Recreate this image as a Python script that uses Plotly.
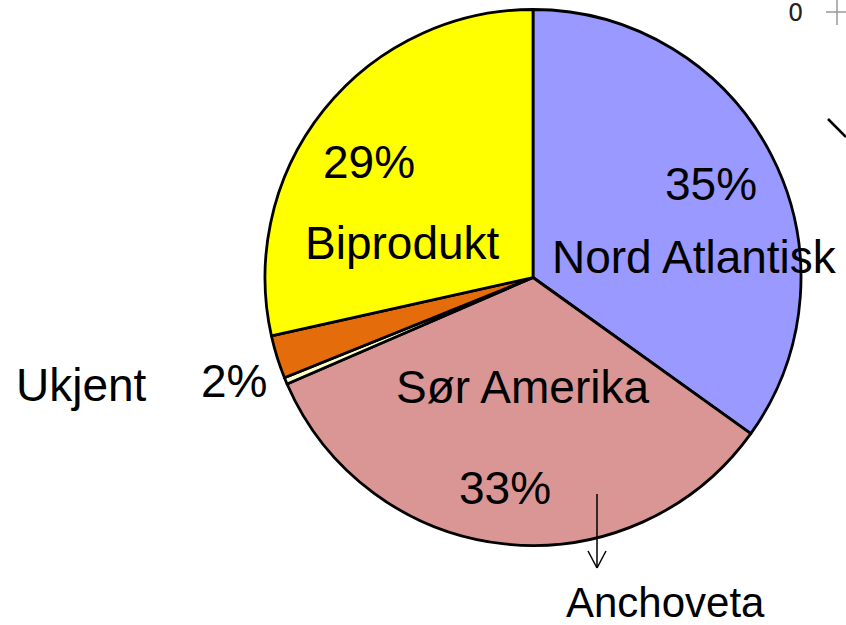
import plotly.graph_objects as go

# Data
categories = ["Nord Atlantisk", "Sør Amerika", "Annet", "Ukjent", "Biprodukt"]
values = [34.9, 33.6, 0.4, 2.6, 28.5]
colors = ["#9999FF", "#D99694", "#FFFFCC", "#E46C0A", "#FFFF00"]
pct_labels = ["35%", "33%", "2%", "29%"]
name_labels = ["Nord Atlantisk", "Sør Amerika", "Ukjent", "Biprodukt"]
extra_label = "Anchoveta"
corner_tick = "0"

W, H = 846, 625
FONT = "Liberation Sans, Arial, sans-serif"


def px(x):
    return x / W


def py(y):
    return 1 - y / H


cx, cy, r = 533, 277.5, 268

fig = go.Figure(go.Pie(
    labels=categories,
    values=values,
    sort=False,
    direction="clockwise",
    rotation=0,
    textinfo="none",
    hoverinfo="label+percent",
    marker=dict(colors=colors, line=dict(color="black", width=2.8)),
    domain=dict(x=[px(cx - r), px(cx + r)], y=[py(cy + r), py(cy - r)]),
    showlegend=False,
))

ann = []


def add(text, x, y, size=46, color="black", family=FONT):
    ann.append(dict(text=text, x=px(x), y=py(y), xref="paper", yref="paper",
                    xanchor="center", yanchor="middle", showarrow=False,
                    font=dict(family=family, size=size, color=color)))


add(pct_labels[0], 711, 184)
add(name_labels[0], 694, 257)
add(name_labels[1], 522, 387)
add(pct_labels[1], 505, 488)
add(pct_labels[2], 234, 381)
add(name_labels[2], 81, 385)
add(pct_labels[3], 369, 162)
add(name_labels[3], 402, 243)
add(extra_label, 665, 602, 42)
add(corner_tick, 795, 13, 24, "#222222", "DejaVu Sans, sans-serif")

shapes = []


def seg(x0, y0, x1, y1, color="black", width=1.5):
    shapes.append(dict(type="line", xref="paper", yref="paper",
                       x0=px(x0), y0=py(y0), x1=px(x1), y1=py(y1),
                       line=dict(color=color, width=width)))


# arrow to Anchoveta
seg(597, 494, 597, 568)
seg(588, 551, 597, 568)
seg(606, 551, 597, 568)
# clipped elements at top right
seg(837, 0, 837, 25, "#999999", 1.5)
seg(826, 12, 846, 12, "#999999", 1.5)
seg(828, 119, 846, 137, "black", 2.5)

fig.update_layout(
    width=W, height=H,
    margin=dict(l=0, r=0, t=0, b=0),
    paper_bgcolor="white", plot_bgcolor="white",
    annotations=ann, shapes=shapes,
)

fig.write_html(
    "out.html",
    config={"displayModeBar": False},
    post_script="document.body.style.margin='0';document.body.style.overflow='hidden';",
)
